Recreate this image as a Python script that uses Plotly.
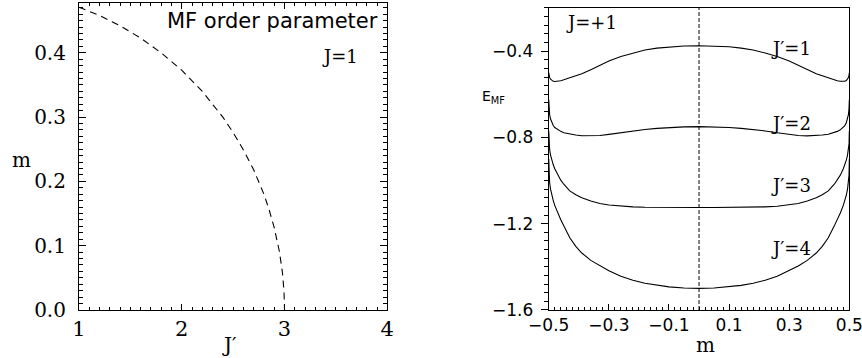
import plotly.graph_objects as go
from plotly.subplots import make_subplots

# left panel: MF order parameter m vs J'
jp_vals = [1.0, 1.2, 1.4, 1.6, 1.8, 2.0, 2.2, 2.4, 2.5, 2.6, 2.7, 2.8, 2.85, 2.9, 2.95, 2.98, 2.995, 3.0]
m_order = [0.471, 0.458, 0.442, 0.423, 0.400, 0.373, 0.340, 0.300, 0.276, 0.249, 0.218, 0.180, 0.156,
           0.128, 0.091, 0.058, 0.029, 0.0]

# right panel: E_MF vs m, one curve per J'
m_vals = [-0.5, -0.499, -0.497, -0.494, -0.49, -0.485, -0.48, -0.47, -0.46, -0.45, -0.43, -0.41, -0.39,
          -0.36, -0.33, -0.30, -0.26, -0.22, -0.18, -0.14, -0.10, -0.05, 0.0,
          0.05, 0.10, 0.14, 0.18, 0.22, 0.26, 0.30, 0.33, 0.36, 0.39, 0.41, 0.43, 0.45, 0.46, 0.47,
          0.48, 0.485, 0.49, 0.494, 0.497, 0.499, 0.5]
e_jp1 = [-0.500, -0.512, -0.522, -0.530, -0.536, -0.540, -0.541, -0.540, -0.537, -0.533, -0.524, -0.514,
         -0.505, -0.486, -0.466, -0.446, -0.425, -0.409, -0.395, -0.386, -0.380, -0.376, -0.375,
         -0.376, -0.380, -0.386, -0.395, -0.409, -0.425, -0.446, -0.466, -0.486, -0.505, -0.514, -0.524,
         -0.533, -0.537, -0.540, -0.541, -0.540, -0.536, -0.530, -0.522, -0.512, -0.500]
e_jp2 = [-0.625, -0.665, -0.695, -0.715, -0.732, -0.745, -0.754, -0.765, -0.772, -0.778, -0.785, -0.789,
         -0.792, -0.793, -0.791, -0.786, -0.778, -0.770, -0.763, -0.758, -0.754, -0.751, -0.750,
         -0.751, -0.754, -0.758, -0.763, -0.770, -0.778, -0.786, -0.791, -0.793, -0.792, -0.789, -0.785,
         -0.778, -0.772, -0.765, -0.754, -0.745, -0.732, -0.715, -0.695, -0.665, -0.625]
e_jp3 = [-0.770, -0.830, -0.857, -0.882, -0.905, -0.927, -0.945, -0.975, -0.998, -1.017, -1.048, -1.066,
         -1.080, -1.095, -1.106, -1.113, -1.119, -1.122, -1.124, -1.125, -1.125, -1.125, -1.125,
         -1.125, -1.125, -1.125, -1.124, -1.122, -1.119, -1.113, -1.106, -1.095, -1.080, -1.066, -1.048,
         -1.017, -0.998, -0.975, -0.945, -0.927, -0.905, -0.882, -0.857, -0.830, -0.770]
e_jp4 = [-0.900, -0.975, -1.010, -1.040, -1.068, -1.093, -1.115, -1.150, -1.182, -1.210, -1.265, -1.305,
         -1.336, -1.370, -1.396, -1.418, -1.444, -1.462, -1.476, -1.486, -1.493, -1.498, -1.500,
         -1.498, -1.493, -1.486, -1.476, -1.462, -1.444, -1.418, -1.396, -1.370, -1.336, -1.305, -1.265,
         -1.210, -1.182, -1.150, -1.115, -1.093, -1.068, -1.040, -1.010, -0.975, -0.900]
curve_labels = ["J′=1", "J′=2", "J′=3", "J′=4"]
label_e = [-0.387, -0.736, -1.024, -1.317]

right_xticks = [-0.5, -0.3, -0.1, 0.1, 0.3, 0.5]

SERIF = "DejaVu Serif"
SANS = "DejaVu Sans"

fig = make_subplots(rows=1, cols=2)

fig.add_trace(
    go.Scatter(x=jp_vals, y=m_order, mode="lines",
               line=dict(color="black", width=1.1, dash="7px,5px")),
    row=1, col=1,
)

for e in [e_jp1, e_jp2, e_jp3, e_jp4]:
    fig.add_trace(
        go.Scatter(x=m_vals, y=e, mode="lines", line=dict(color="black", width=1.1)),
        row=1, col=2,
    )

fig.add_vline(x=0, line=dict(color="black", width=1, dash="4px,2px"), row=1, col=2)

axis_common = dict(showgrid=False, zeroline=False, showline=True, linecolor="black",
                   linewidth=1, tickcolor="black", tickwidth=1.2, automargin=False,
                   ticklabeloverflow="allow")

# left panel axes
fig.update_xaxes(
    domain=[0.0916, 0.4493], range=[1, 4], tick0=1, dtick=1, ticks="inside", ticklen=6,
    mirror="allticks", tickfont=dict(family=SERIF, size=21, color="black"),
    minor=dict(dtick=0.1, ticks="inside", ticklen=3, tickcolor="black", tickwidth=1.1),
    **axis_common, row=1, col=1,
)
fig.update_yaxes(
    domain=[0.1341, 0.9925], range=[0, 0.478], tick0=0, dtick=0.1, tickformat=".1f",
    ticks="inside", ticklen=7, mirror="allticks", ticklabelstandoff=8,
    tickfont=dict(family=SERIF, size=20, color="black"),
    minor=dict(dtick=0.01, ticks="inside", ticklen=4, tickcolor="black", tickwidth=1.1),
    **axis_common, row=1, col=1,
)

# right panel axes
fig.update_xaxes(
    domain=[0.6366, 0.9853], range=[-0.5, 0.50001], tickvals=right_xticks, tickformat=".1f",
    ticks="inside", ticklen=6, mirror=True,
    tickfont=dict(family=SANS, size=17, color="black"),
    minor=dict(dtick=0.02, tick0=-0.5, ticks="inside", ticklen=3, tickcolor="black", tickwidth=1.1),
    **axis_common, row=1, col=2,
)
fig.update_yaxes(
    domain=[0.1341, 0.9777], range=[-1.6, -0.2], tick0=-1.6, dtick=0.4, tickformat=".1f",
    ticks="outside", ticklen=7, mirror=True, ticklabelstandoff=4,
    tickfont=dict(family=SANS, size=17, color="black"),
    minor=dict(dtick=0.04, ticks="outside", ticklen=4, tickcolor="black", tickwidth=1.1),
    **axis_common, row=1, col=2,
)

# in-panel labels
fig.add_annotation(x=3.93, y=0.449, xref="x", yref="y", text="MF order parameter",
                   showarrow=False, xanchor="right", yanchor="middle",
                   font=dict(family=SANS, size=21, color="black"))
fig.add_annotation(x=3.54, y=0.394, xref="x", yref="y", text="J=1", showarrow=False,
                   xanchor="center", yanchor="middle",
                   font=dict(family=SERIF, size=18, color="black"))
fig.add_annotation(x=-0.359, y=-0.267, xref="x2", yref="y2", text="J=+1", showarrow=False,
                   xanchor="center", yanchor="middle",
                   font=dict(family=SERIF, size=18, color="black"))
for lab, ey in zip(curve_labels, label_e):
    fig.add_annotation(x=0.306, y=ey, xref="x2", yref="y2", text=lab, showarrow=False,
                       xanchor="center", yanchor="middle",
                       font=dict(family=SERIF, size=18, color="black"))

# axis titles
titles = [("m", 0.0255, 0.553, SERIF, 20), ("J′", 0.2657, 0.0363, SERIF, 20),
          ("m", 0.8179, 0.0363, SERIF, 20), ("E<sub>MF</sub>", 0.572, 0.729, SANS, 14)]
for txt, px, py, fam, sz in titles:
    fig.add_annotation(x=px, y=py, xref="paper", yref="paper", text=txt, showarrow=False,
                       xanchor="center", yanchor="middle",
                       font=dict(family=fam, size=sz, color="black"))

fig.update_layout(
    template="none",
    width=862, height=358,
    margin=dict(l=0, r=0, t=0, b=0),
    paper_bgcolor="white", plot_bgcolor="white",
    showlegend=False,
)

# page body margin would push the 862x358 figure off the window
fig.write_html("out.html", config={"displayModeBar": False},
               post_script="document.body.style.margin='0';")
